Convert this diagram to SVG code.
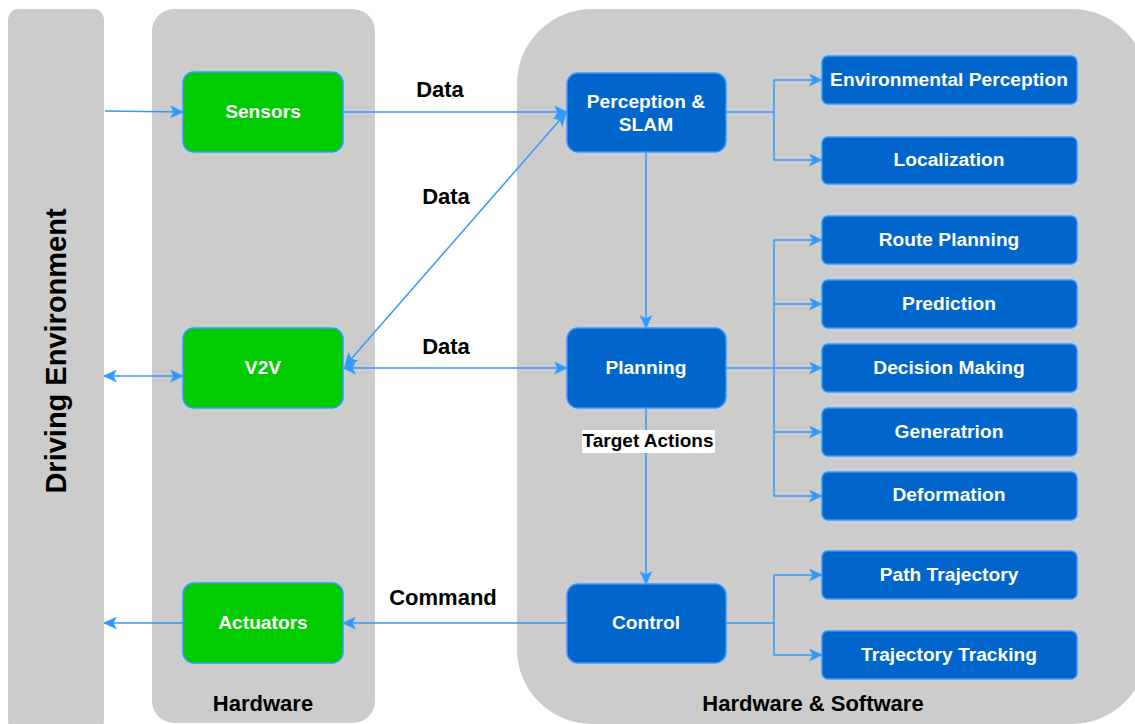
<svg xmlns="http://www.w3.org/2000/svg" width="1135" height="724" viewBox="0 0 1135 724">
  <style>
    .panel { fill: #CCCCCC; }
    .hw { fill: #00CC00; stroke: #3399FF; stroke-width: 1.5; }
    .sw { fill: #0066CC; stroke: #3399FF; stroke-width: 1.5; }
    .ntext { font-family: "Liberation Sans", Arial, sans-serif; font-weight: bold; font-size: 19.2px; fill: #FFFFFF; text-anchor: middle; }
    .label { font-family: "Liberation Sans", Arial, sans-serif; font-weight: bold; font-size: 22px; fill: #000000; text-anchor: middle; }
    .small { font-size: 19px; }
    .title { font-family: "Liberation Sans", Arial, sans-serif; font-weight: bold; font-size: 22px; fill: #000000; text-anchor: middle; }
    .edge { fill: none; stroke: #3399FF; stroke-width: 1.5; }
  </style>
  <defs>
    <marker id="arrow" viewBox="0 0 14 13" refX="13" refY="6.5" markerWidth="14" markerHeight="13" markerUnits="userSpaceOnUse" orient="auto-start-reverse">
      <path d="M0,0 L14,6.5 L0,13 L3.5,6.5 Z" fill="#3399FF"/>
    </marker>
  </defs>

  <rect width="1135" height="724" fill="#FFFFFF"/>

  <!-- Background panels -->
  <g id="panel-environment">
    <rect class="panel" x="8" y="9" width="96" height="722" rx="10"/>
    <text class="title" transform="translate(66 351) rotate(-90)" style="font-size:29px">Driving Environment</text>
  </g>
  <g id="panel-hardware">
    <rect class="panel" x="152" y="9" width="223" height="714" rx="22"/>
    <text class="title" x="263" y="711">Hardware</text>
  </g>
  <g id="panel-hw-sw">
    <rect class="panel" x="517" y="9" width="630" height="715" rx="75"/>
    <text class="title" x="813" y="711">Hardware &amp; Software</text>
  </g>

  <!-- Connectors -->
  <g id="connectors">
    <path class="edge" d="M105,111 L183,112" marker-end="url(#arrow)"/>
    <path class="edge" d="M343,112 L567,112" marker-end="url(#arrow)"/>
    <path class="edge" d="M345,366 L566,113" marker-start="url(#arrow)" marker-end="url(#arrow)"/>
    <path class="edge" d="M343,368 L567,368" marker-start="url(#arrow)" marker-end="url(#arrow)"/>
    <path class="edge" d="M104,376 L183,376" marker-start="url(#arrow)" marker-end="url(#arrow)"/>
    <path class="edge" d="M567,623 L343,623" marker-end="url(#arrow)"/>
    <path class="edge" d="M183,623 L104,623" marker-end="url(#arrow)"/>
    <path class="edge" d="M646,152 L646,328" marker-end="url(#arrow)"/>
    <path class="edge" d="M646,408 L646,584" marker-end="url(#arrow)"/>

    <!-- Perception branches -->
    <path class="edge" d="M726,112 L774,112 L774,80 L822,80" marker-end="url(#arrow)"/>
    <path class="edge" d="M774,112 L774,160 L822,160" marker-end="url(#arrow)"/>

    <!-- Planning branches -->
    <path class="edge" d="M726,368 L774,368 L774,240 L822,240" marker-end="url(#arrow)"/>
    <path class="edge" d="M774,304 L822,304" marker-end="url(#arrow)"/>
    <path class="edge" d="M774,368 L822,368" marker-end="url(#arrow)"/>
    <path class="edge" d="M774,368 L774,496 L822,496" marker-end="url(#arrow)"/>
    <path class="edge" d="M774,432 L822,432" marker-end="url(#arrow)"/>

    <!-- Control branches -->
    <path class="edge" d="M726,623 L774,623 L774,575 L822,575" marker-end="url(#arrow)"/>
    <path class="edge" d="M774,623 L774,655 L822,655" marker-end="url(#arrow)"/>

    <!-- Edge labels -->
    <text class="label" x="440" y="97">Data</text>
    <text class="label" x="446" y="204">Data</text>
    <text class="label" x="446" y="354">Data</text>
    <text class="label" x="443" y="605">Command</text>
    <rect x="582" y="430" width="133" height="23" fill="#FFFFFF"/>
    <text class="label small" x="648" y="447">Target Actions</text>
  </g>

  <!-- Hardware nodes -->
  <g id="sensors">
    <rect class="hw" x="183" y="72" width="160" height="80" rx="11"/>
    <text class="ntext" x="263" y="118">Sensors</text>
  </g>
  <g id="v2v">
    <rect class="hw" x="183" y="328" width="160" height="80" rx="11"/>
    <text class="ntext" x="263" y="374">V2V</text>
  </g>
  <g id="actuators">
    <rect class="hw" x="183" y="583" width="160" height="80" rx="11"/>
    <text class="ntext" x="263" y="629">Actuators</text>
  </g>

  <!-- Software stages -->
  <g id="perception-slam">
    <rect class="sw" x="567" y="73" width="159" height="79" rx="11"/>
    <text class="ntext" x="646" y="108">Perception &amp;</text>
    <text class="ntext" x="646" y="131">SLAM</text>
  </g>
  <g id="planning">
    <rect class="sw" x="567" y="328" width="159" height="80" rx="11"/>
    <text class="ntext" x="646" y="374">Planning</text>
  </g>
  <g id="control">
    <rect class="sw" x="567" y="584" width="159" height="79" rx="11"/>
    <text class="ntext" x="646" y="629">Control</text>
  </g>

  <!-- Sub-tasks -->
  <g id="environmental-perception">
    <rect class="sw" x="822" y="56" width="255" height="48" rx="6"/>
    <text class="ntext" x="949" y="86">Environmental Perception</text>
  </g>
  <g id="localization">
    <rect class="sw" x="822" y="137" width="255" height="47" rx="6"/>
    <text class="ntext" x="949" y="166">Localization</text>
  </g>
  <g id="route-planning">
    <rect class="sw" x="822" y="216" width="255" height="48" rx="6"/>
    <text class="ntext" x="949" y="246">Route Planning</text>
  </g>
  <g id="prediction">
    <rect class="sw" x="822" y="280" width="255" height="48" rx="6"/>
    <text class="ntext" x="949" y="310">Prediction</text>
  </g>
  <g id="decision-making">
    <rect class="sw" x="822" y="344" width="255" height="48" rx="6"/>
    <text class="ntext" x="949" y="374">Decision Making</text>
  </g>
  <g id="generatrion">
    <rect class="sw" x="822" y="408" width="255" height="48" rx="6"/>
    <text class="ntext" x="949" y="438">Generatrion</text>
  </g>
  <g id="deformation">
    <rect class="sw" x="822" y="472" width="255" height="48" rx="6"/>
    <text class="ntext" x="949" y="501">Deformation</text>
  </g>
  <g id="path-trajectory">
    <rect class="sw" x="822" y="551" width="255" height="48" rx="6"/>
    <text class="ntext" x="949" y="581">Path Trajectory</text>
  </g>
  <g id="trajectory-tracking">
    <rect class="sw" x="822" y="631" width="255" height="48" rx="6"/>
    <text class="ntext" x="949" y="661">Trajectory Tracking</text>
  </g>
</svg>
